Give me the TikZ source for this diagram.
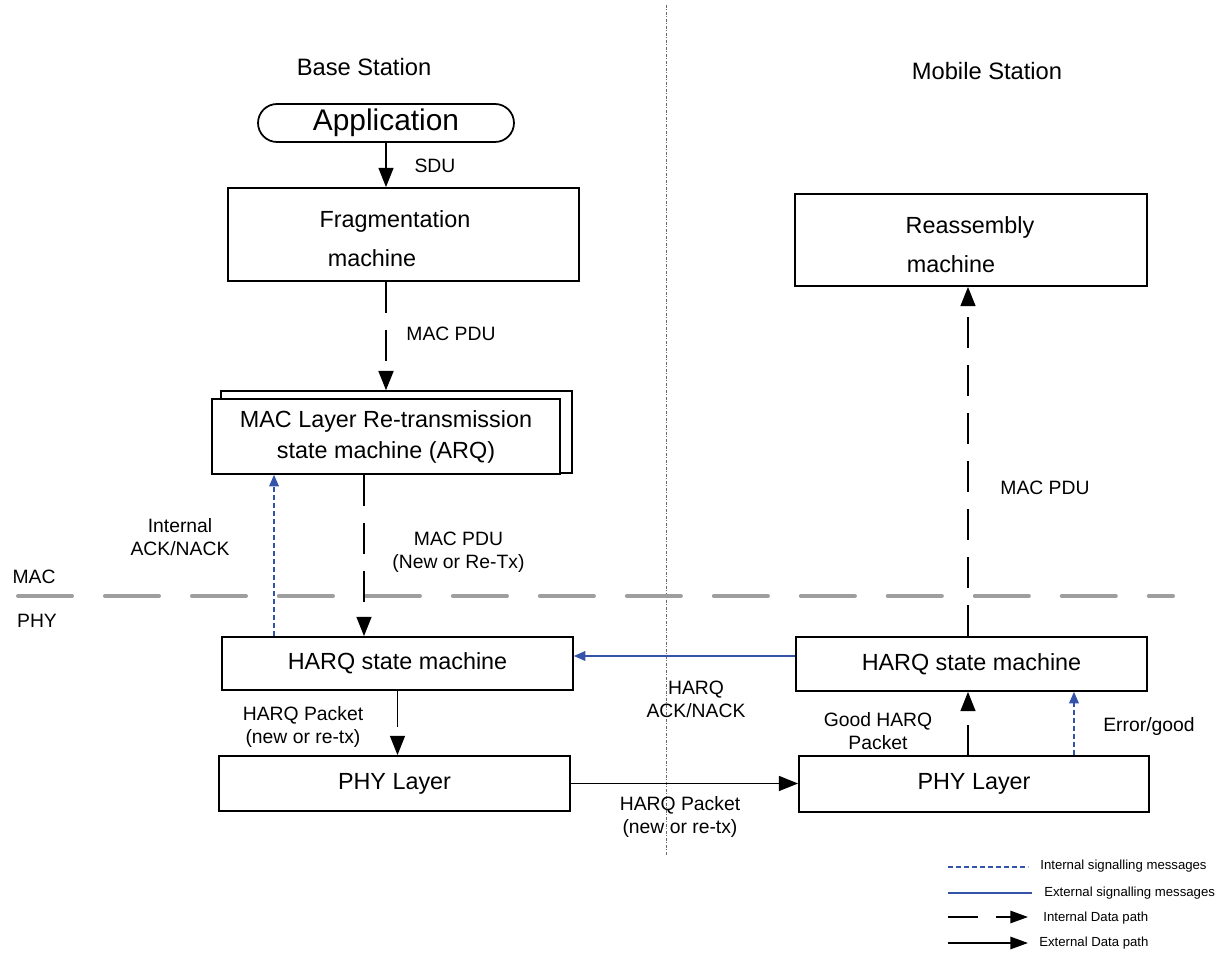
\documentclass[tikz,border=0pt]{standalone}
\usepackage{fontspec}
\setmainfont{Liberation Sans}
\usetikzlibrary{arrows.meta}
\definecolor{sigblue}{RGB}{52,84,170}
\definecolor{layergray}{RGB}{158,158,158}
\definecolor{divgray}{RGB}{105,105,105}

\begin{document}
\begin{tikzpicture}[x=0.02cm,y=-0.02cm,
  box/.style={draw,line width=1pt,inner sep=0pt,fill=white},
  lbl/.style={font=\fontsize{11}{13}\selectfont,align=center,inner sep=0pt},
  title/.style={font=\fontsize{13.5}{16}\selectfont,inner sep=0pt},
  boxtext/.style={font=\fontsize{13.3}{17.6}\selectfont,align=center,inner sep=0pt},
  legtext/.style={font=\fontsize{7.5}{9}\selectfont,anchor=west,inner sep=0pt},
  datatip/.style={-{Triangle[length=11pt,width=8.5pt]}},
  extdata/.style={line width=1.05pt,datatip},
  intdata/.style={line width=1.05pt,dash pattern=on 0.62cm off 0.34cm,datatip},
  sigtip/.style={-{Triangle[length=6.5pt,width=5.5pt]}},
  intsig/.style={sigblue,line width=0.6pt,dash pattern=on 0.1cm off 0.06cm,sigtip},
  extsig/.style={sigblue,line width=0.6pt,sigtip},
  legtip/.style={-{Triangle[length=10pt,width=7pt]}},
]
\fill[white] (0,0) rectangle (1225,955);
\useasboundingbox (0,0) rectangle (1225,955);

% base station / mobile station divider
\coordinate (divtop) at (666,5);
\coordinate (divbot) at (666,855);
\draw[divgray,line width=0.5pt,dash pattern=on 0.06cm off 0.03cm on 0.02cm off 0.03cm] (divtop) -- (divbot);

% MAC / PHY boundary
\coordinate (layl) at (18,596);
\coordinate (layr) at (1173,596);
\draw[layergray,line width=2.3pt,line cap=round,dash pattern=on 1.08cm off 0.66cm] (layl) -- (layr);
\node[lbl] (maclbl) at (34,577) {MAC};
\node[lbl] (phylbl) at (37,621) {PHY};

% titles
\node[title] (bs) at (364,67) {Base Station};
\node[title] (ms) at (987,71) {Mobile Station};

% base station stack
\node[box,rounded corners=0.38cm,minimum width=5.12cm,minimum height=0.76cm,font=\fontsize{17}{20}\selectfont] (app) at (386,123) {Application};
\node[box,minimum width=7.02cm,minimum height=1.86cm] (frag) at (403.5,234.5) {};
\node[boxtext,anchor=base] (fragt1) at (395,228) {Fragmentation};
\node[boxtext,anchor=base] (fragt2) at (372,267) {machine};
\node[box,line width=0.8pt,minimum width=7.02cm,minimum height=1.64cm] (arqb) at (396.5,432) {};
\node[box,boxtext,minimum width=6.96cm,minimum height=1.5cm] (arqf) at (386,436.5) {MAC Layer Re-transmission\\state machine (ARQ)};
\node[box,boxtext,minimum width=7.02cm,minimum height=1.06cm] (harqb) at (397.5,663.5) {HARQ state machine};
\node[box,boxtext,minimum width=7.02cm,minimum height=1.1cm] (phyb) at (394.5,783.5) {PHY Layer};

% mobile station stack
\node[box,minimum width=7.04cm,minimum height=1.84cm] (reas) at (971,240) {};
\node[boxtext,anchor=base] (reast1) at (970,234) {Reassembly};
\node[boxtext,anchor=base] (reast2) at (951,273) {machine};
\node[box,boxtext,minimum width=7.02cm,minimum height=1.08cm] (harqm) at (971.5,664) {HARQ state machine};
\node[box,boxtext,minimum width=7.0cm,minimum height=1.12cm] (phym) at (974,784) {PHY Layer};

% base station connectors
\draw[extdata] (app.south) -- (app.south |- frag.north);
\node[lbl] (sdu) at (435,166) {SDU};
\draw[intdata] (arqf.north |- frag.south) -- (arqf.north |- arqb.north);
\node[lbl] (pdu1) at (451,334) {MAC PDU};
\draw[intdata] ([xshift=-0.44cm]arqf.south) -- ([xshift=-0.44cm]arqf.south |- harqb.north);
\node[lbl] (pdu2) at (458.5,552) {MAC PDU\\(New or Re-Tx)};
\draw[intsig] ([xshift=-2.24cm]arqf.south |- harqb.north) -- ([xshift=-2.24cm]arqf.south);
\node[lbl] (iack) at (180,537) {Internal\\ACK/NACK};
\draw[line width=1.05pt,dash pattern=on 0.72cm off 0.5cm,datatip] (harqb.south) -- (harqb.south |- phyb.north);
\node[lbl] (hpk1) at (303,727) {HARQ Packet\\(new or re-tx)};

% air interface
\draw[extdata] (phyb.east) -- (phyb.east -| phym.west);
\node[lbl] (hpk2) at (680,817) {HARQ Packet\\(new or re-tx)};
\draw[extsig] ([yshift=0.16cm]harqm.west) -- ([yshift=0.16cm]harqm.west -| harqb.east);
\node[lbl] (hack) at (696,699) {HARQ\\ACK/NACK};

% mobile station connectors
\draw[line width=1.05pt,dash pattern=on 0.6cm off 0.3cm,datatip] ([xshift=-0.12cm]phym.north) -- ([xshift=-0.12cm]phym.north |- harqm.south);
\node[lbl] (good) at (878,731) {Good HARQ\\Packet};
\draw[intsig] ([xshift=2cm]phym.north) -- ([xshift=2cm]phym.north |- harqm.south);
\node[lbl] (errg) at (1149,727) {Error/good};
\draw[intdata] ([xshift=-0.07cm]harqm.north) -- ([xshift=-0.07cm]harqm.north |- reas.south);
\node[lbl] (pdu3) at (1045,488) {MAC PDU};

% legend
\coordinate (l1a) at (948,867); \coordinate (l1b) at (1028,867);
\coordinate (l2a) at (948,893); \coordinate (l2b) at (1032,893);
\coordinate (l3a) at (948,917); \coordinate (l3b) at (1028,917);
\coordinate (l4a) at (948,943); \coordinate (l4b) at (1028,943);
\draw[sigblue,line width=0.6pt,dash pattern=on 0.1cm off 0.06cm] (l1a) -- (l1b);
\draw[sigblue,line width=0.6pt] (l2a) -- (l2b);
\draw[line width=1.05pt,dash pattern=on 0.6cm off 0.36cm,legtip] (l3a) -- (l3b);
\draw[line width=1.05pt,legtip] (l4a) -- (l4b);
\node[legtext] (lt1) at (1040,866) {Internal signalling messages};
\node[legtext] (lt2) at (1044,893) {External signalling messages};
\node[legtext] (lt3) at (1043,918) {Internal Data path};
\node[legtext] (lt4) at (1039,943) {External Data path};
\end{tikzpicture}
\end{document}
